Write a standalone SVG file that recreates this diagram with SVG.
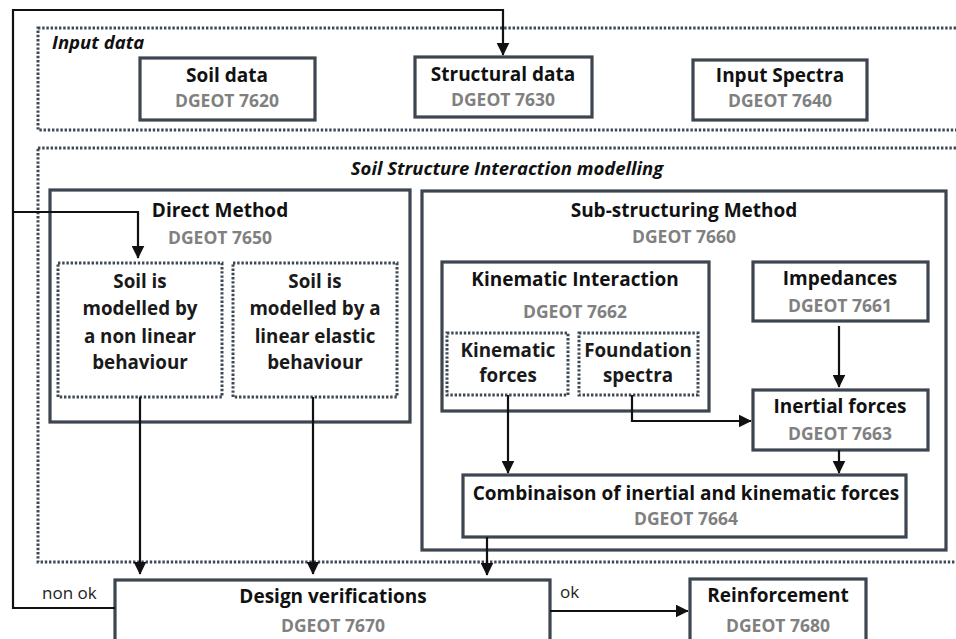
<svg xmlns="http://www.w3.org/2000/svg" width="956" height="639" viewBox="0 0 956 639">
<defs>
<style>
.box{fill:#fff;stroke:#3c4550;stroke-width:3.2}
.dot{fill:none;stroke:#3e4854;stroke-width:3;stroke-dasharray:2.4 1.8}
.t{font-family:"Open Sans","Liberation Sans",sans-serif;font-weight:700;font-size:19px;fill:#111;text-anchor:middle}
.g{font-family:"Open Sans","Liberation Sans",sans-serif;font-weight:700;font-size:17.5px;fill:#808080;text-anchor:middle}
.b{font-family:"Open Sans","Liberation Sans",sans-serif;font-weight:700;font-size:18.8px;fill:#1a1a1a;text-anchor:middle}
.h{font-family:"Open Sans","Liberation Sans",sans-serif;font-weight:700;font-style:italic;font-size:18.5px;fill:#111}
.l{font-family:"Open Sans","Liberation Sans",sans-serif;font-size:17px;fill:#222}
.c{fill:none;stroke:#111;stroke-width:2.2}
</style>
<marker id="ah" viewBox="0 0 10 10" refX="9.5" refY="5" markerWidth="13" markerHeight="13" markerUnits="userSpaceOnUse" orient="auto">
<path d="M0,0 L10,5 L0,10 z" fill="#111"/>
</marker>
</defs>
<rect width="956" height="639" fill="#fff"/>

<g id="input-data">
<rect class="dot" x="38" y="28" width="940" height="102"/>
<text class="h" x="52" y="49">Input data</text>
</g>
<g id="soil-data">
<rect class="box" x="140" y="58" width="175" height="62"/>
<text class="t" x="227" y="82">Soil data</text>
<text class="g" x="227" y="107">DGEOT 7620</text>
</g>
<g id="structural-data">
<rect class="box" x="415" y="57" width="177" height="60"/>
<text class="t" x="503" y="81">Structural data</text>
<text class="g" x="503" y="106">DGEOT 7630</text>
</g>
<g id="input-spectra">
<rect class="box" x="693" y="60" width="174" height="60"/>
<text class="t" x="780" y="82">Input Spectra</text>
<text class="g" x="780" y="107">DGEOT 7640</text>
</g>

<g id="ssi">
<rect class="dot" x="38" y="148" width="940" height="414"/>
<text class="h" x="507" y="175" text-anchor="middle">Soil Structure Interaction modelling</text>
</g>
<g id="direct-method">
<rect class="box" x="50" y="190" width="360" height="232"/>
<text class="t" x="220" y="217">Direct Method</text>
<text class="g" x="220" y="244">DGEOT 7650</text>
</g>
<g id="nonlinear">
<rect class="dot" x="58" y="263" width="164" height="134"/>
<text class="b" x="140" y="288">Soil is</text>
<text class="b" x="140" y="315">modelled by</text>
<text class="b" x="140" y="343">a non linear</text>
<text class="b" x="140" y="369">behaviour</text>
</g>
<g id="linear">
<rect class="dot" x="233" y="263" width="164" height="134"/>
<text class="b" x="315" y="288">Soil is</text>
<text class="b" x="315" y="315">modelled by a</text>
<text class="b" x="315" y="343">linear elastic</text>
<text class="b" x="315" y="369">behaviour</text>
</g>

<g id="substructuring">
<rect class="box" x="422" y="191" width="524" height="359"/>
<text class="t" x="684" y="217">Sub-structuring Method</text>
<text class="g" x="684" y="243">DGEOT 7660</text>
</g>
<g id="kinematic-interaction">
<rect class="box" x="442" y="262" width="267" height="149"/>
<text class="t" x="575" y="286">Kinematic Interaction</text>
<text class="g" x="575" y="318">DGEOT 7662</text>
</g>
<g id="kinematic-forces">
<rect class="dot" x="447" y="333" width="121" height="62"/>
<text class="b" x="508" y="357">Kinematic</text>
<text class="b" x="508" y="382">forces</text>
</g>
<g id="foundation-spectra">
<rect class="dot" x="579" y="333" width="119" height="62"/>
<text class="b" x="638" y="357">Foundation</text>
<text class="b" x="638" y="382">spectra</text>
</g>
<g id="impedances">
<rect class="box" x="753" y="262" width="175" height="59"/>
<text class="t" x="840" y="285">Impedances</text>
<text class="g" x="840" y="312">DGEOT 7661</text>
</g>
<g id="inertial-forces">
<rect class="box" x="753" y="390" width="175" height="60"/>
<text class="t" x="840" y="413">Inertial forces</text>
<text class="g" x="840" y="440">DGEOT 7663</text>
</g>
<g id="combinaison">
<rect class="box" x="463" y="475" width="443" height="62"/>
<text class="t" x="686" y="500">Combinaison of inertial and kinematic forces</text>
<text class="g" x="686" y="525">DGEOT 7664</text>
</g>

<g id="design-verifications">
<rect class="box" x="115" y="580" width="435" height="80"/>
<text class="t" x="333" y="603">Design verifications</text>
<text class="g" x="333" y="632">DGEOT 7670</text>
</g>
<g id="reinforcement">
<rect class="box" x="690" y="579" width="176" height="80"/>
<text class="t" x="778" y="602">Reinforcement</text>
<text class="g" x="778" y="632">DGEOT 7680</text>
</g>

<g id="connectors">
<polyline class="c" stroke-width="1.8" points="115,608 13,608 13,10 503,10 503,55" marker-end="url(#ah)"/>
<polyline class="c" stroke-width="1.8" points="13,212 138,212 138,258" marker-end="url(#ah)"/>
<line class="c" x1="140" y1="397" x2="140" y2="574" marker-end="url(#ah)"/>
<line class="c" x1="313" y1="397" x2="313" y2="574" marker-end="url(#ah)"/>
<line class="c" x1="508" y1="395" x2="508" y2="473" marker-end="url(#ah)"/>
<polyline class="c" points="632,395 632,421 751,421" marker-end="url(#ah)"/>
<line class="c" x1="839" y1="326" x2="839" y2="387" marker-end="url(#ah)"/>
<line class="c" x1="839" y1="450" x2="839" y2="473" marker-end="url(#ah)"/>
<line class="c" x1="487" y1="537" x2="487" y2="575" marker-end="url(#ah)"/>
<line class="c" x1="550" y1="611" x2="688" y2="611" marker-end="url(#ah)"/>
<text class="l" x="42" y="599">non ok</text>
<text class="l" x="560" y="598">ok</text>
</g>
</svg>
